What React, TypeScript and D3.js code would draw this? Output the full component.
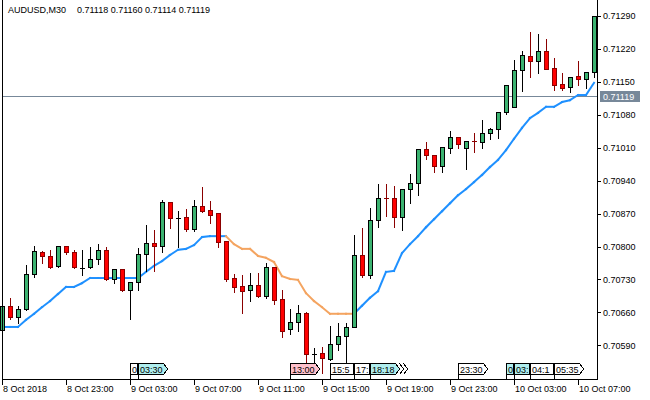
import { scaleLinear, timeParse } from 'd3'

// AUDUSD M30, one candle per half hour starting at firstBar
const symbol = 'AUDUSD,M30'
const lastQuote = ['0.71118', '0.71160', '0.71114', '0.71119']
const currentPrice = 0.71119
const firstBar = '2018-10-08 19:00'
const barMinutes = 30

const opens = [
  0.70623, 0.70674, 0.7065, 0.70667, 0.70742, 0.70788, 0.7078, 0.70759, 0.70801, 0.70788,
  0.70754, 0.70756, 0.70773, 0.70793, 0.70731, 0.70752, 0.70708, 0.70725, 0.70784, 0.70807,
  0.70801, 0.70895, 0.70861, 0.70863, 0.70837, 0.70886, 0.70878, 0.70871, 0.70812, 0.70733,
  0.70716, 0.70708, 0.70718, 0.70695, 0.70756, 0.70688, 0.70625, 0.7064, 0.70659, 0.70572,
  0.70574, 0.70561, 0.70593, 0.7061, 0.70629, 0.70782, 0.70739, 0.70856, 0.70903, 0.70903,
  0.70863, 0.70922, 0.70935, 0.71007, 0.70995, 0.70971, 0.71009, 0.71033, 0.71009, 0.71024,
  0.71022, 0.71041, 0.7105, 0.71086, 0.71097, 0.71175, 0.71205, 0.71194, 0.71216, 0.71179,
  0.71145, 0.71139, 0.71162, 0.71156, 0.71171,
]
const highs = [
  0.70691, 0.70693, 0.70676, 0.70763, 0.70803, 0.70793, 0.70795, 0.70803, 0.70803, 0.70795,
  0.70795, 0.70801, 0.70807, 0.70801, 0.70754, 0.70752, 0.70725, 0.70799, 0.70848, 0.70837,
  0.70901, 0.70895, 0.70878, 0.70882, 0.70901, 0.70929, 0.70899, 0.70871, 0.70812, 0.70744,
  0.70742, 0.70746, 0.70746, 0.70767, 0.70756, 0.7071, 0.70669, 0.70678, 0.70663, 0.70586,
  0.70589, 0.70633, 0.7064, 0.7064, 0.70827, 0.70841, 0.70884, 0.70935, 0.70935, 0.70931,
  0.70922, 0.70956, 0.71009, 0.71024, 0.70995, 0.71012, 0.71048, 0.71033, 0.71026, 0.71043,
  0.71071, 0.71054, 0.71086, 0.71143, 0.71199, 0.71218, 0.71258, 0.71254, 0.71243, 0.71203,
  0.71171, 0.71162, 0.71197, 0.71171, 0.71292,
]
const lows = [
  0.70618, 0.70646, 0.70637, 0.70665, 0.70735, 0.70765, 0.70754, 0.70756, 0.70784, 0.70754,
  0.70739, 0.70754, 0.70763, 0.70729, 0.70722, 0.70705, 0.70646, 0.70708, 0.70748, 0.70748,
  0.70788, 0.70839, 0.70799, 0.70833, 0.70833, 0.70873, 0.7085, 0.70799, 0.70727, 0.70703,
  0.70659, 0.70684, 0.70693, 0.70691, 0.70678, 0.70608, 0.70614, 0.7062, 0.70555, 0.70555,
  0.70531, 0.70559, 0.7058, 0.70555, 0.70629, 0.70735, 0.70733, 0.70841, 0.70865, 0.70841,
  0.70835, 0.70892, 0.70909, 0.70986, 0.70958, 0.70958, 0.70999, 0.71009, 0.70965, 0.71001,
  0.71009, 0.71029, 0.71031, 0.71082, 0.71097, 0.71131, 0.7116, 0.71169, 0.71177, 0.71133,
  0.71133, 0.71128, 0.71143, 0.71137, 0.7116,
]
const closes = [
  0.70674, 0.7065, 0.70667, 0.70742, 0.7079, 0.7078, 0.70756, 0.70801, 0.70788, 0.70756,
  0.70754, 0.70773, 0.70793, 0.70731, 0.70752, 0.70708, 0.70725, 0.70784, 0.70807, 0.70801,
  0.70895, 0.70861, 0.70861, 0.70837, 0.70886, 0.70875, 0.70867, 0.7081, 0.70731, 0.70714,
  0.70705, 0.70718, 0.70695, 0.70756, 0.70686, 0.7062, 0.7064, 0.70659, 0.70572, 0.70572,
  0.70563, 0.70593, 0.7061, 0.70629, 0.70782, 0.70739, 0.70856, 0.70903, 0.70902, 0.70863,
  0.70922, 0.70935, 0.71007, 0.70995, 0.70971, 0.71012, 0.71033, 0.71018, 0.71024, 0.71023,
  0.71041, 0.7105, 0.71086, 0.71143, 0.71175, 0.71207, 0.71194, 0.71216, 0.71177, 0.71143,
  0.71137, 0.7116, 0.71156, 0.71171, 0.7129,
]

// trailing line under/over the candles, 1 = rising (blue), -1 = falling (orange)
const trail = [
  0.70629, 0.70629, 0.70629, 0.70644, 0.70657, 0.70671, 0.70684, 0.70699, 0.70714, 0.70714,
  0.70722, 0.70733, 0.70733, 0.70733, 0.70733, 0.70733, 0.70733, 0.70733, 0.70746, 0.70759,
  0.70769, 0.70782, 0.70793, 0.70795, 0.70803, 0.7082, 0.70822, 0.70822, 0.70822, 0.70805,
  0.70795, 0.70795, 0.7078, 0.70776, 0.70767, 0.70737, 0.70731, 0.70729, 0.70701, 0.70684,
  0.70671, 0.70657, 0.70657, 0.70657, 0.70657, 0.70674, 0.70691, 0.70705, 0.70746, 0.70748,
  0.70786, 0.70805, 0.70822, 0.70841, 0.70858, 0.70875, 0.70892, 0.70909, 0.70922, 0.70937,
  0.70952, 0.70969, 0.70984, 0.71005, 0.71029, 0.71052, 0.71073, 0.71084, 0.71097, 0.71097,
  0.71107, 0.71111, 0.71122, 0.71122, 0.71148,
]
const trailTrend = [
  1, 1, 1, 1, 1, 1, 1, 1, 1, 1, 1, 1, 1, 1, 1, 1, 1, 1, 1, 1, 1, 1, 1, 1, 1, 1, 1, 1,
  -1, -1, -1, -1, -1, -1, -1, -1, -1, -1, -1, -1, -1, -1, -1, -1,
  1, 1, 1, 1, 1, 1, 1, 1, 1, 1, 1, 1, 1, 1, 1, 1, 1, 1, 1, 1, 1, 1, 1, 1, 1, 1, 1, 1, 1, 1, 1,
]

const priceTicks = [
  0.7059, 0.7066, 0.7073, 0.708, 0.7087, 0.7094, 0.7101, 0.7108, 0.7115, 0.7122, 0.7129,
]
const timeTicks = [
  '2018-10-08 19:00', '2018-10-08 23:00', '2018-10-09 03:00', '2018-10-09 07:00',
  '2018-10-09 11:00', '2018-10-09 15:00', '2018-10-09 19:00', '2018-10-09 23:00',
  '2018-10-10 03:00', '2018-10-10 07:00',
]
const timeTickLabels = [
  '8 Oct 2018', '8 Oct 23:00', '9 Oct 03:00', '9 Oct 07:00', '9 Oct 11:00',
  '9 Oct 15:00', '9 Oct 19:00', '9 Oct 23:00', '10 Oct 03:00', '10 Oct 07:00',
]

// calendar events shown along the time axis
const eventTimes = [
  '2018-10-09 03:00', '2018-10-09 03:30', '2018-10-09 13:00', '2018-10-09 15:30',
  '2018-10-09 17:00', '2018-10-09 18:00', '2018-10-09 23:30', '2018-10-10 02:30',
  '2018-10-10 03:00', '2018-10-10 04:00', '2018-10-10 05:30',
]
const eventLabels = [
  '03:00', '03:30', '13:00', '15:55', '17:00', '18:18', '23:30', '02:30', '03:00', '04:15', '05:35',
]
const eventKinds = [
  'plain', 'calm', 'hot', 'plain', 'plain', 'calm', 'plain', 'calm', 'calm', 'plain', 'plain',
]
const eventCounts = [1, 1, 1, 1, 1, 3, 1, 1, 1, 1, 1]

const font = '"Liberation Sans", Arial, sans-serif'
const bullFill = '#3cb371'
const bearFill = '#ff0000'
const bearLine = '#8b0000'
const upColor = '#1e90ff'
const downColor = '#f4a460'
const priceLineColor = '#778899'
const eventFill: Record<string, string> = { plain: '#ffffff', calm: '#afeeee', hot: '#ffc0cb' }

const parseTime = timeParse('%Y-%m-%d %H:%M')

function barIndex(time: string) {
  const t0 = parseTime(firstBar)!.getTime()
  return (parseTime(time)!.getTime() - t0) / (barMinutes * 60000)
}

// what part of a label fits into a box of the given width (9px Arial metrics)
function fitLabel(label: string, room: number) {
  let used = 0
  let out = ''
  for (const ch of label) {
    const w = ch === ':' ? 2.5 : 5
    if (used + w > room) break
    used += w
    out += ch
  }
  return out
}

export default function App() {
  const width = 650
  const height = 400
  const left = 2
  const right = 597
  const bottom = 379

  const x = scaleLinear().domain([0, opens.length - 1]).range([2, 594])
  const y = scaleLinear().domain([0.7059, 0.7129]).range([345.3, 16])
  const px = (v: number) => Math.round(v) + 0.5

  const events = eventTimes.map((time, i) => ({
    x: Math.round(x(barIndex(time))),
    label: eventLabels[i],
    kind: eventKinds[i],
    count: eventCounts[i],
  }))

  const currentY = px(y(currentPrice))

  return (
    <svg
      width={width}
      height={height}
      style={{ position: 'fixed', left: 0, top: 0, background: '#fff' }}
      fontFamily={font}
      fontSize={9}
    >
      <text x={8} y={13}>{symbol}</text>
      <text x={77} y={13}>{lastQuote.join(' ')}</text>

      {/* current bid line */}
      <line x1={left} x2={right} y1={currentY} y2={currentY} stroke={priceLineColor} />

      {/* trailing line */}
      <g strokeWidth={2} strokeLinecap="square">
        {trail.slice(0, -1).map((v, i) => (
          <line
            key={i}
            x1={x(i)}
            x2={x(i + 1)}
            y1={y(v)}
            y2={y(trail[i + 1])}
            stroke={trailTrend[i] > 0 ? upColor : downColor}
          />
        ))}
      </g>

      {/* candles */}
      <g shapeRendering="crispEdges">
        {opens.map((open, i) => {
          const close = closes[i]
          const cx = px(x(i))
          const bull = close > open
          const bear = close < open
          const top = Math.round(y(Math.max(open, close)))
          const bot = Math.round(y(Math.min(open, close)))
          const wick = bear ? bearLine : '#000'
          return (
            <g key={i}>
              <line x1={cx} x2={cx} y1={px(y(highs[i]))} y2={px(y(lows[i]))} stroke={wick} />
              {bot - top < 2 ? (
                <line x1={cx - 2.5} x2={cx + 2.5} y1={top + 0.5} y2={top + 0.5} stroke={wick} />
              ) : (
                <rect
                  x={cx - 2}
                  y={top + 0.5}
                  width={4}
                  height={bot - top}
                  fill={bull ? bullFill : bearFill}
                  stroke={bull ? '#000' : bearLine}
                />
              )}
            </g>
          )
        })}
      </g>

      {/* calendar events */}
      {events.map((ev, i) => {
        const next = events[i + 1]
        const clipped = next && next.x - ev.x < 30
        const w = clipped ? next.x - ev.x - 1 : 25
        const x0 = ev.x + 0.5
        const shape = clipped
          ? `M${x0},363.5H${x0 + w}V374.5H${x0}Z`
          : `M${x0},363.5H${x0 + w}L${x0 + w + 4},369L${x0 + w},374.5H${x0}Z`
        return (
          <g key={i} shapeRendering="crispEdges">
            <line x1={x0} x2={x0} y1={363} y2={bottom} stroke="#000" />
            {Array.from({ length: ev.count - 1 }, (_, k) => (
              <path
                key={k}
                d={`M${x0 + w + 4 * (k + 1)},363.5L${x0 + w + 4 * (k + 2)},369L${x0 + w + 4 * (k + 1)},374.5`}
                fill="none"
                stroke="#000"
              />
            ))}
            <path d={shape} fill={eventFill[ev.kind]} stroke="#000" />
            <text x={ev.x + 2} y={373}>
              {fitLabel(ev.label, w - 1)}
            </text>
          </g>
        )
      })}

      {/* frame */}
      <g stroke="#000" shapeRendering="crispEdges">
        <line x1={left + 0.5} x2={left + 0.5} y1={0} y2={bottom + 0.5} />
        <line x1={left} x2={right + 0.5} y1={bottom + 0.5} y2={bottom + 0.5} />
        <line x1={right + 0.5} x2={right + 0.5} y1={0} y2={bottom + 0.5} />
      </g>

      {/* price axis */}
      {priceTicks.map((t) => (
        <g key={t}>
          <line x1={right} x2={right + 4} y1={px(y(t))} y2={px(y(t))} stroke="#000" shapeRendering="crispEdges" />
          <text x={603} y={y(t) + 3.3}>{t.toFixed(5)}</text>
        </g>
      ))}
      <rect x={600} y={currentY - 5.5} width={40} height={11} fill={priceLineColor} />
      <text x={603} y={currentY + 3.5} fill="#fff">
        {currentPrice.toFixed(5)}
      </text>

      {/* time axis */}
      {timeTicks.map((t, i) => {
        const tx = px(x(barIndex(t)))
        return (
          <g key={t}>
            <line x1={tx} x2={tx} y1={bottom} y2={bottom + 6} stroke="#000" shapeRendering="crispEdges" />
            <text x={tx + 0.5} y={392}>{timeTickLabels[i]}</text>
          </g>
        )
      })}
    </svg>
  )
}
